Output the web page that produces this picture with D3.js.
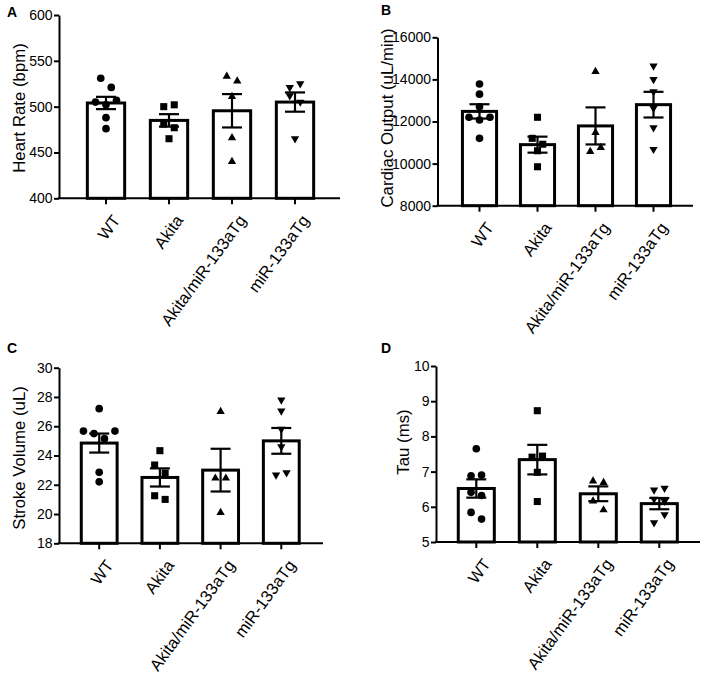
<!DOCTYPE html>
<html><head><meta charset="utf-8">
<script src="https://cdn.jsdelivr.net/npm/d3@7"></script>
<style>body{margin:0;background:#fff} svg{display:block} text{font-family:"Liberation Sans",Arial,Helvetica,sans-serif;fill:#000}</style>
</head><body><svg id="c" width="704" height="680"></svg>
<script>
// ---------- data ----------
const categories = ["WT", "Akita", "Akita/miR-133aTg", "miR-133aTg"];

const heartRatePoints = [[531, 521, 505, 502, 507, 488, 476], [500, 502, 481, 477, 465], [533, 528, 511, 466, 440], [521, 525, 512, 505, 465]];
const heartRateMean = [504, 485, 495.5, 505];
const heartRateSem = [6.7, 6.8, 18.2, 10.5];
const heartRateTicks = [400, 450, 500, 550, 600];

const cardiacOutputPoints = [[13780, 13300, 12700, 12200, 12070, 12200, 11200], [12200, 11200, 10920, 10610, 9850], [14370, 11470, 10570, 10760], [14640, 14000, 13420, 12630, 11710, 10680]];
const cardiacOutputMean = [12480, 10900, 11790, 12800];
const cardiacOutputSem = [340, 380, 880, 610];
const cardiacOutputTicks = [8000, 10000, 12000, 14000, 16000];

const strokeVolumePoints = [[27.2, 25.67, 25.5, 25.15, 25.67, 22.85, 22.2], [24.33, 23.35, 22.8, 21.25, 21.0], [27.0, 22.45, 22.45, 20.1], [27.8, 27.05, 25.8, 24.6, 22.67, 22.82]];
const strokeVolumeMean = [24.85, 22.5, 23.0, 25.0];
const strokeVolumeSem = [0.65, 0.62, 1.46, 0.88];
const strokeVolumeTicks = [18, 20, 22, 24, 26, 28, 30];

const tauPoints = [[7.65, 6.88, 6.9, 6.41, 6.32, 5.84, 5.65], [8.73, 7.41, 7.44, 6.98, 6.15], [6.73, 6.69, 6.16, 5.91], [6.48, 6.53, 6.22, 6.16, 5.55, 5.78]];
const tauMean = [6.52, 7.34, 6.37, 6.09];
const tauSem = [0.26, 0.42, 0.21, 0.16];
const tauTicks = [5, 6, 7, 8, 9, 10];

// ---------- layout ----------
const panels = [
  {letter: "A", title: "Heart Rate (bpm)", pts: heartRatePoints, mean: heartRateMean, sem: heartRateSem, ticks: heartRateTicks,
   L: {ax: 59, aend: 340, top: 15, bot: 198.3, c0: 106, step: 63, tx: 19, ty: 108, lx: 7, ly: 17}},
  {letter: "B", title: "Cardiac Output (uL/min)", pts: cardiacOutputPoints, mean: cardiacOutputMean, sem: cardiacOutputSem, ticks: cardiacOutputTicks,
   L: {ax: 437.5, aend: 693, top: 37.3, bot: 205.7, c0: 479.5, step: 58, tx: 387, ty: 118, lx: 381, ly: 15}},
  {letter: "C", title: "Stroke Volume (uL)", pts: strokeVolumePoints, mean: strokeVolumeMean, sem: strokeVolumeSem, ticks: strokeVolumeTicks,
   L: {ax: 59, aend: 323, top: 367.7, bot: 543.3, c0: 99.2, step: 60.7, tx: 19, ty: 458, lx: 7, ly: 353}},
  {letter: "D", title: "Tau (ms)", pts: tauPoints, mean: tauMean, sem: tauSem, ticks: tauTicks,
   L: {ax: 436, aend: 700, top: 366, bot: 542, c0: 476.3, step: 61, tx: 403, ty: 442, lx: 381, ly: 353}}
];

const symbols = [
  {type: d3.symbolCircle, size: 46, rot: 0},
  {type: d3.symbolSquare, size: 50, rot: 0},
  {type: d3.symbolTriangle, size: 30, rot: 0},
  {type: d3.symbolTriangle, size: 30, rot: 180}
];

const svg = d3.select("#c");
const ANG = 54;

function swarm(ys, thr, sp) {
  const idx = ys.map((y, i) => i).sort((a, b) => ys[a] - ys[b]);
  const off = new Array(ys.length).fill(0);
  let i = 0;
  while (i < idx.length) {
    const start = ys[idx[i]];
    const grp = [];
    while (i < idx.length && ys[idx[i]] - start < thr) { grp.push(idx[i]); i++; }
    const n = grp.length;
    const order = grp.slice().sort((a, b) => a - b);
    order.forEach((k, j) => { off[k] = (j - (n - 1) / 2) * sp; });
  }
  return off;
}

panels.forEach(p => {
  const L = p.L;
  const g = svg.append("g");
  const y = d3.scaleLinear().domain([p.ticks[0], p.ticks[p.ticks.length - 1]]).range([L.bot, L.top]);
  const x = d3.scaleBand().domain(categories)
    .range([L.c0 - L.step / 2, L.c0 + 3.5 * L.step]).paddingInner(0.36).paddingOuter(0.18);
  const bw = x.bandwidth();
  const cx = c => x(c) + bw / 2;

  // bars
  g.selectAll("rect.bar").data(categories).join("rect")
    .attr("x", c => x(c) + 1.5).attr("width", bw - 3)
    .attr("y", (c, i) => y(p.mean[i])).attr("height", (c, i) => L.bot - y(p.mean[i]))
    .attr("fill", "#fff").attr("stroke", "#000").attr("stroke-width", 3);

  // points
  categories.forEach((c, i) => {
    const ys = p.pts[i].map(v => y(v));
    const off = swarm(ys, 9.5, 10.5);
    const s = symbols[i];
    g.selectAll(null).data(p.pts[i]).join("path")
      .attr("d", d3.symbol().type(s.type).size(s.size))
      .attr("transform", (v, k) => `translate(${cx(c) + off[k]},${y(v)}) rotate(${s.rot})`)
      .attr("fill", "#000");
  });

  // error bars
  categories.forEach((c, i) => {
    const hi = y(p.mean[i] + p.sem[i]), lo = y(p.mean[i] - p.sem[i]);
    const eg = g.append("g").attr("stroke", "#000").attr("stroke-width", 2.2);
    eg.append("line").attr("x1", cx(c)).attr("x2", cx(c)).attr("y1", hi).attr("y2", lo);
    eg.append("line").attr("x1", cx(c) - 10).attr("x2", cx(c) + 10).attr("y1", hi).attr("y2", hi);
    eg.append("line").attr("x1", cx(c) - 10).attr("x2", cx(c) + 10).attr("y1", lo).attr("y2", lo);
  });

  // y axis
  const ya = g.append("g").attr("transform", `translate(${L.ax},0)`)
    .call(d3.axisLeft(y).tickValues(p.ticks).tickFormat(d3.format("d")).tickSize(5).tickPadding(1.5).tickSizeOuter(0));
  ya.select(".domain").attr("stroke-width", 2);
  ya.selectAll(".tick line").attr("stroke-width", 2);
  ya.selectAll(".tick text").style("font-size", "14px").style("font-family", '"Liberation Sans", Arial, sans-serif');

  // x axis
  const xa = g.append("g").attr("transform", `translate(0,${L.bot})`)
    .call(d3.axisBottom(x).tickSize(6).tickSizeOuter(0));
  xa.select(".domain").remove();
  xa.selectAll(".tick line").attr("stroke-width", 2);
  xa.selectAll(".tick text")
    .attr("y", 0).attr("dy", 0).attr("x", 0)
    .style("text-anchor", "end")
    .style("font-size", "16.5px").style("font-family", '"Liberation Sans", Arial, sans-serif')
    .attr("transform", `translate(15,22) rotate(${-ANG})`);
  g.append("line").attr("x1", L.ax - 1).attr("x2", L.aend).attr("y1", L.bot).attr("y2", L.bot)
    .attr("stroke", "#000").attr("stroke-width", 2);

  // y title
  g.append("text").attr("transform", `translate(${L.tx},${L.ty}) rotate(-90)`)
    .attr("text-anchor", "middle").attr("dy", "0.35em")
    .style("font-size", "16.8px").text(p.title);

  // panel letter
  g.append("text").attr("x", L.lx).attr("y", L.ly)
    .style("font-size", "14px").style("font-weight", "bold").text(p.letter);
});
</script></body></html>
